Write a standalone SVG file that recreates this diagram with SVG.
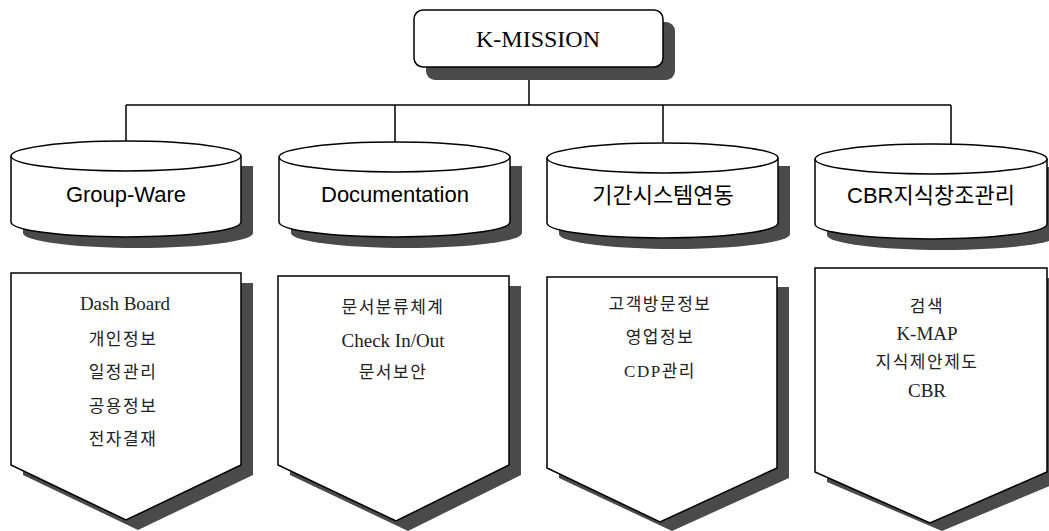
<svg xmlns="http://www.w3.org/2000/svg" width="1049" height="531" viewBox="0 0 1049 531">
<style>
.shadow{fill:#4a4a4a;stroke:none}
.shape{fill:#fff;stroke:#000;stroke-width:1.5}
.line{fill:none;stroke:#000;stroke-width:1.5}
.title{font-family:"Liberation Serif","Noto Sans CJK KR",serif;font-size:24px;fill:#000;text-anchor:middle}
.cyl{font-family:"Liberation Sans","Noto Sans CJK KR",sans-serif;font-size:22px;fill:#000;text-anchor:middle}
.item{font-family:"Liberation Serif","Noto Sans CJK KR",serif;font-size:17px;fill:#222;text-anchor:middle;letter-spacing:1.5px}
.en{font-size:19px;letter-spacing:0}
</style>
<rect width="1049" height="531" fill="#fff"/>
<g id="connectors">
<path class="line" d="M529,78 V105 M126,105 H951 M126,105 V141 M395,105 V142 M663,105 V142 M951,105 V145"/>
</g>
<g id="k-mission">
<rect class="shadow" x="426" y="22" width="249" height="58" rx="9"/>
<rect class="shape" x="414" y="10" width="249" height="57" rx="9"/>
<text class="title" x="538" y="47">K-MISSION</text>
</g>
<g id="cyl-groupware">
<path class="shadow" d="M23,166 V233 A115,15 0 0 0 253,233 V166 Z"/>
<path class="shape" d="M11,156 V222 A115,15 0 0 0 241,222 V156"/>
<ellipse class="shape" cx="126" cy="156" rx="115" ry="15"/>
<text class="cyl" x="126" y="202">Group-Ware</text>
</g>
<g id="cyl-documentation">
<path class="shadow" d="M291,166 V233 A115.5,15 0 0 0 522,233 V166 Z"/>
<path class="shape" d="M279,157 V222 A115.5,15 0 0 0 510,222 V157"/>
<ellipse class="shape" cx="394.5" cy="157" rx="115.5" ry="15"/>
<text class="cyl" x="395" y="202">Documentation</text>
</g>
<g id="cyl-system">
<path class="shadow" d="M559,166 V234 A115.5,15 0 0 0 790,234 V166 Z"/>
<path class="shape" d="M547,158 V223 A115.5,15 0 0 0 778,223 V158"/>
<ellipse class="shape" cx="662.5" cy="158" rx="115.5" ry="15"/>
<text class="cyl" x="663" y="203">기간시스템연동</text>
</g>
<g id="cyl-cbr">
<path class="shadow" d="M827,167 V235 A116,15 0 0 0 1059,235 V167 Z"/>
<path class="shape" d="M815,159 V224 A116,15 0 0 0 1047,224 V159"/>
<ellipse class="shape" cx="931" cy="159" rx="116" ry="15"/>
<text class="cyl" x="931" y="203">CBR지식창조관리</text>
</g>
<g id="box-groupware">
<path class="shadow" d="M23,283 H253 V475 L138,530 L23,475 Z"/>
<path class="shape" d="M11,273 H241 V465 L126,520 L11,465 Z"/>
<text class="item en" x="125" y="310">Dash Board</text>
<text class="item" x="123" y="345">개인정보</text>
<text class="item" x="123" y="378">일정관리</text>
<text class="item" x="123" y="412">공용정보</text>
<text class="item" x="123" y="445">전자결재</text>
</g>
<g id="box-documentation">
<path class="shadow" d="M290,286 H521 V475 L408,531 L290,475 Z"/>
<path class="shape" d="M278,276 H509 V465 L396,521 L278,465 Z"/>
<text class="item" x="393" y="313">문서분류체계</text>
<text class="item en" x="393" y="347">Check In/Out</text>
<text class="item" x="393" y="378">문서보안</text>
</g>
<g id="box-system">
<path class="shadow" d="M559,287 H789 V478 L672,531 L559,478 Z"/>
<path class="shape" d="M547,277 H777 V468 L660,522 L547,468 Z"/>
<text class="item" x="660" y="310">고객방문정보</text>
<text class="item" x="660" y="343">영업정보</text>
<text class="item" x="660" y="377">CDP관리</text>
</g>
<g id="box-cbr">
<path class="shadow" d="M827,278 H1059 V482 L942,531 L827,482 Z"/>
<path class="shape" d="M815,268 H1047 V472 L930,523 L815,472 Z"/>
<text class="item" x="927" y="312">검색</text>
<text class="item en" x="927" y="340">K-MAP</text>
<text class="item" x="927" y="368">지식제안제도</text>
<text class="item en" x="927" y="397">CBR</text>
</g>
</svg>
